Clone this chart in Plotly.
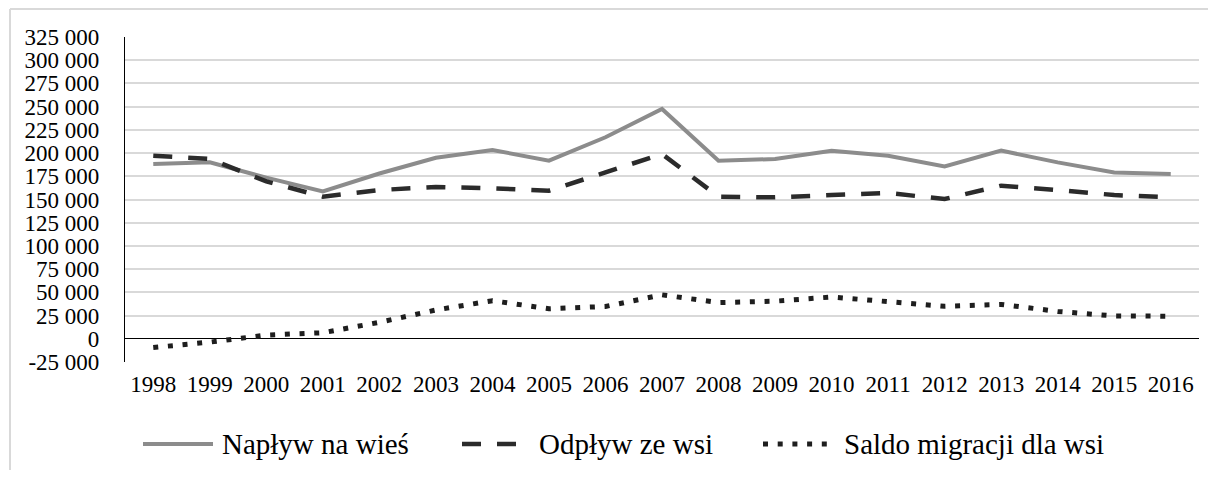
import plotly.graph_objects as go

# ---- data ----
years = ["1998", "1999", "2000", "2001", "2002", "2003", "2004", "2005", "2006", "2007",
         "2008", "2009", "2010", "2011", "2012", "2013", "2014", "2015", "2016"]
naplyw = [188300, 190000, 173500, 158700, 178000, 195000, 203300, 191800, 217000, 247500,
          191800, 193600, 202600, 197200, 185700, 202600, 190000, 179200, 177500]
odplyw = [197200, 193600, 169500, 153000, 160200, 163500, 162000, 159500, 179200, 199000,
          153000, 152300, 154800, 157000, 150500, 164900, 160200, 154800, 152300]
saldo = [-9400, -3600, 4000, 6500, 17800, 31000, 41000, 32300, 34800, 47300,
         39000, 40500, 45000, 39500, 35000, 37000, 29500, 24600, 24300]
series_names = ["Napływ na wieś", "Odpływ ze wsi", "Saldo migracji dla wsi"]
y_tick_vals = [-25000, 0, 25000, 50000, 75000, 100000, 125000, 150000, 175000,
               200000, 225000, 250000, 275000, 300000, 325000]
y_tick_text = ["-25 000", "0", "25 000", "50 000", "75 000", "100 000", "125 000", "150 000",
               "175 000", "200 000", "225 000", "250 000", "275 000", "300 000", "325 000"]

# ---- styles ----
FONT = "Liberation Serif"
styles = [
    dict(color="#8c8c8c", width=4, dash="solid"),
    dict(color="#2b2b2b", width=4.5, dash="19px,16px"),
    dict(color="#1e1e1e", width=5, dash="5px,9.7px"),
]

# the page body has an 8px margin on each side; size the figure to fit inside it
OFF = 8
W, H = 1216 - 2 * OFF, 478 - 2 * OFF
L, T = 125 - OFF, 37 - OFF
R = W - (1199 - OFF)
B = H - (362 - OFF)
PW, PH = W - L - R, H - T - B


def px_x(x):  # page pixel -> paper
    return (x - OFF - L) / PW


def px_y(y):
    return (H - B - (y - OFF)) / PH


fig = go.Figure()
for name, vals, st in zip(series_names, [naplyw, odplyw, saldo], styles):
    fig.add_trace(go.Scatter(x=years, y=vals, mode="lines", name=name,
                             line=st, showlegend=False, hoverinfo="x+y+name"))

BORDER = dict(color="#d9d9d9", width=2)
shapes = [
    # chart-area border (top and left edges visible in the crop)
    dict(type="line", xref="paper", yref="paper", x0=px_x(10), x1=px_x(1216),
         y0=px_y(9), y1=px_y(9), line=BORDER, layer="below"),
    dict(type="line", xref="paper", yref="paper", x0=px_x(10), x1=px_x(10),
         y0=px_y(9), y1=px_y(478), line=BORDER, layer="below"),
]
annotations = []
legend_pos = [(143, 213, 220), (462, 518, 537), (763, 830, 842)]
LEG_Y = 444
for name, st, (s0, s1, tx) in zip(series_names, styles, legend_pos):
    shapes.append(dict(type="line", xref="paper", yref="paper",
                       x0=px_x(s0), x1=px_x(s1), y0=px_y(LEG_Y), y1=px_y(LEG_Y),
                       line=dict(color=st["color"], width=st["width"], dash=st["dash"])))
    annotations.append(dict(text=name, xref="paper", yref="paper", x=px_x(tx), y=px_y(LEG_Y),
                            xanchor="left", yanchor="middle", showarrow=False,
                            font=dict(family=FONT, size=29, color="#000000")))

fig.update_layout(
    width=W, height=H,
    margin=dict(l=L, r=R, t=T, b=B, pad=0),
    paper_bgcolor="white", plot_bgcolor="white",
    font=dict(family=FONT, size=23, color="#000000"),
    showlegend=False,
    shapes=shapes,
    annotations=annotations,
    xaxis=dict(type="category", range=[-0.5, 18.5], showgrid=False, showline=False,
               zeroline=False, ticks="", tickfont=dict(family=FONT, size=23, color="#000000"),
               ticklabelstandoff=6, fixedrange=True),
    yaxis=dict(range=[-25000, 325000], tickvals=y_tick_vals, ticktext=y_tick_text,
               showgrid=True, gridcolor="#d9d9d9", gridwidth=1.5,
               showline=True, linecolor="#000000", linewidth=1.2,
               zeroline=True, zerolinecolor="#000000", zerolinewidth=1.2,
               ticks="", ticklabelstandoff=20,
               tickfont=dict(family=FONT, size=23, color="#000000"), fixedrange=True),
)

fig.write_html("out.html")
